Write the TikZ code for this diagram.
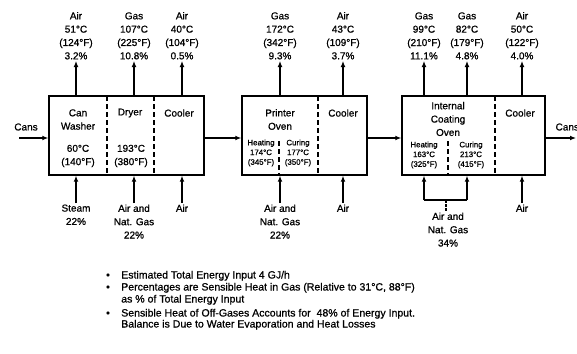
\documentclass[tikz,border=0pt]{standalone}
\usepackage{fontspec}
\setmainfont{Liberation Sans}[FakeBold=0.8]
\usetikzlibrary{arrows.meta,fit}
\newcommand\lbsz{\fontsize{7.5}{10}\selectfont}
\newcommand\smsz{\fontsize{5.9}{7.3}\selectfont}
\newcommand\ntsz{\fontsize{7.9}{9}\selectfont}
\begin{document}
\begin{tikzpicture}[x=0.75pt,y=-0.75pt,
  box/.style={draw,line width=1.1pt,inner sep=0pt},
  arr/.style={line width=0.8pt,-{Latex[length=4.5pt,width=3.6pt]}},
  lbl/.style={font=\lbsz,align=center,inner sep=1pt},
  sml/.style={font=\smsz,align=center,inner sep=0pt},
  div/.style={line width=0.8pt,dash pattern=on 4pt off 2pt},
  note/.style={font=\ntsz,anchor=base west,inner sep=0pt}]
\useasboundingbox (0,0) rectangle (577,353);
\fill[white] (0,0) rectangle (577,353);
\clip (0,0) rectangle (577,353);
% boxes
\node[box,fit={(49,96) (204,175)}] (b1) {};
\node[box,fit={(242,96) (367,175)}] (b2) {};
\node[box,fit={(402,96) (545,175)}] (b3) {};
% dividers
\draw[div] (107,96) -- (107,175);
\draw[div] (154,96) -- (154,175);
\draw[div] (318,96) -- (318,175);
\draw[div] (279,141) -- (279,175);
\draw[div] (495,96) -- (495,175);
\draw[div] (448,141) -- (448,175);
% box 1 texts
\node[lbl] (cw) at (78,119.5) {Can\\Washer};
\node[lbl] (cwt) at (78,156) {60°C\\(140°F)};
\node[lbl] (dr) at (130,113) {Dryer};
\node[lbl] (drt) at (131,156) {193°C\\(380°F)};
\node[lbl] (c1) at (179,113) {Cooler};
% box 2 texts
\node[lbl] (po) at (280,119.5) {Printer\\Oven};
\node[sml] (ph) at (261,153) {Heating\\174°C\\(345°F)};
\node[sml] (pc) at (298,153) {Curing\\177°C\\(350°F)};
\node[lbl] (c2) at (343,113) {Cooler};
% box 3 texts
\node[lbl] (ic) at (448,119) {Internal\\Coating\\Oven};
\node[sml] (ih) at (424,155) {Heating\\163°C\\(325°F)};
\node[sml] (icu) at (471,155) {Curing\\213°C\\(415°F)};
\node[lbl] (c3) at (520,113) {Cooler};
% top outputs
\node[lbl,anchor=south] (t1) at (76,61) {Air\\51°C\\(124°F)\\3.2\%};
\node[lbl,anchor=south] (t2) at (134,61) {Gas\\107°C\\(225°F)\\10.8\%};
\node[lbl,anchor=south] (t3) at (182,61) {Air\\40°C\\(104°F)\\0.5\%};
\node[lbl,anchor=south] (t4) at (280,61) {Gas\\172°C\\(342°F)\\9.3\%};
\node[lbl,anchor=south] (t5) at (343,61) {Air\\43°C\\(109°F)\\3.7\%};
\node[lbl,anchor=south] (t6) at (424,61) {Gas\\99°C\\(210°F)\\11.1\%};
\node[lbl,anchor=south] (t7) at (467,61) {Gas\\82°C\\(179°F)\\4.8\%};
\node[lbl,anchor=south] (t8) at (522,61) {Air\\50°C\\(122°F)\\4.0\%};
\foreach \t/\b in {t1/b1,t2/b1,t3/b1,t4/b2,t5/b2,t6/b3,t7/b3,t8/b3}
  \draw[arr] (\b.north -| \t.south) -- (\t.south);
% bottom inputs
\node[lbl,anchor=north] (s1) at (76,203) {Steam\\22\%};
\node[lbl,anchor=north] (s2) at (134,203) {Air and\\Nat. Gas\\22\%};
\node[lbl,anchor=north] (s3) at (182,203) {Air};
\node[lbl,anchor=north] (s4) at (280,203) {Air and\\Nat. Gas\\22\%};
\node[lbl,anchor=north] (s5) at (343,203) {Air};
\node[lbl,anchor=north] (s6) at (522,203) {Air};
\foreach \s/\b in {s1/b1,s2/b1,s3/b1,s4/b2,s5/b2,s6/b3}
  \draw[arr] (\s.north) -- (\s.north |- \b.south);
\node[lbl,anchor=north] (s7) at (448,211) {Air and\\Nat. Gas\\34\%};
\coordinate (j1) at (424,200);
\coordinate (j2) at (467,200);
\coordinate (jm) at (446,200);
\draw[line width=0.8pt] (j1) -- (j2);
\draw[arr] (j1) -- (j1 |- b3.south);
\draw[arr] (j2) -- (j2 |- b3.south);
\draw[line width=0.8pt,dash pattern=on 2pt off 1pt] (jm) -- (jm |- s7.north);
% cans flow
\node[lbl] (cin) at (26,127) {Cans};
\coordinate (ci) at (19,138);
\coordinate (co) at (576,138);
\node[lbl,anchor=west] (cout) at (554,127) {Cans};
\draw[arr] (ci) -- (ci -| b1.west);
\draw[arr] (b1.east |- ci) -- (b2.west |- ci);
\draw[arr] (b2.east |- ci) -- (b3.west |- ci);
\draw[arr] (b3.east |- co) -- (co);
% notes
\foreach \i/\yy in {1/278.5,2/290.5,3/316.5}
  \node[note,anchor=base] (d\i) at (108,\yy) {•};
\node[note] (n1) at (121,278.5) {Estimated Total Energy Input 4 GJ/h};
\node[note] (n2) at (121,290.5) {Percentages are Sensible Heat in Gas (Relative to 31°C, 88°F)};
\node[note] (n3) at (121,302.5) {as \% of Total Energy Input};
\node[note] (n4) at (121,316.5) {Sensible Heat of Off-Gases Accounts for \ 48\% of Energy Input.};
\node[note] (n5) at (121,327.5) {Balance is Due to Water Evaporation and Heat Losses};
\end{tikzpicture}
\end{document}
